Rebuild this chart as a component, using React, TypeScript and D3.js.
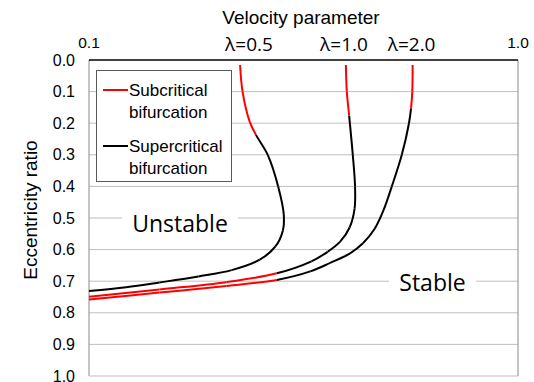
import React from "react";
import * as d3 from "d3";

type P = [number, number]; // [velocity parameter, eccentricity ratio]

const xTickValues = [0.1, 1.0];
const xTickLabels = ["0.1", "1.0"];
const yTickValues = [0, 0.1, 0.2, 0.3, 0.4, 0.5, 0.6, 0.7, 0.8, 0.9, 1.0];

const curveLabels = ["λ=0.5", "λ=1.0", "λ=2.0"];
const curveLabelVelocity = [0.236, 0.393, 0.565];

// λ = 0.5
const l05SubTop: P[] = [[0.225, 0.016], [0.228, 0.1], [0.237, 0.196], [0.245, 0.237]];
const l05Super: P[] = [
  [0.245, 0.237], [0.261, 0.3], [0.276, 0.4], [0.2845, 0.49], [0.283, 0.54], [0.272, 0.59],
  [0.25, 0.632], [0.215, 0.665], [0.18, 0.685], [0.146, 0.704], [0.122, 0.719], [0.1, 0.731],
];
// λ = 1.0
const l10SubTop: P[] = [[0.397, 0.016], [0.399, 0.1], [0.404, 0.176]];
const l10Super: P[] = [
  [0.404, 0.176], [0.412, 0.3], [0.417, 0.4], [0.416, 0.47], [0.405, 0.53], [0.385, 0.575],
  [0.36, 0.607], [0.33, 0.637], [0.274, 0.675],
];
const l10SubBottom: P[] = [[0.274, 0.675], [0.209, 0.703], [0.146, 0.726], [0.1, 0.749]];
// λ = 2.0
const l20SubTop: P[] = [[0.568, 0.016], [0.567, 0.1], [0.563, 0.155]];
const l20Super: P[] = [
  [0.563, 0.155], [0.557, 0.2], [0.536, 0.3], [0.508, 0.4], [0.486, 0.475], [0.463, 0.535],
  [0.435, 0.58], [0.406, 0.612], [0.365, 0.642], [0.328, 0.669], [0.274, 0.696],
];
const l20SubBottom: P[] = [[0.274, 0.696], [0.209, 0.715], [0.146, 0.736], [0.1, 0.758]];

const curves: { seg: P[]; sub: boolean }[][] = [
  [{ seg: l05SubTop, sub: true }, { seg: l05Super, sub: false }],
  [{ seg: l10SubTop, sub: true }, { seg: l10Super, sub: false }, { seg: l10SubBottom, sub: true }],
  [{ seg: l20SubTop, sub: true }, { seg: l20Super, sub: false }, { seg: l20SubBottom, sub: true }],
];

const legendLabels = [["Subcritical", "bifurcation"], ["Supercritical", "bifurcation"]];
const legendColors = ["#ff0000", "#000000"];

const W = 534, H = 382;
const left = 89, right = 518, top = 60, bottom = 376;
const AX = "'Liberation Sans', Arial, sans-serif";
const CAL = "'Open Sans', sans-serif";

export default function App() {
  const x = d3.scaleLog().domain([0.1, 1]).range([left, right]);
  const y = d3.scaleLinear().domain([0, 1]).range([top, bottom]);

  // Build one smooth spline per λ, then colour each interval by its segment.
  const pieces: { d: string; sub: boolean }[] = [];
  curves.forEach((parts) => {
    const pts: P[] = [];
    const flags: boolean[] = [];
    parts.forEach((p, pi) => {
      p.seg.forEach((pt, k) => {
        if (pi > 0 && k === 0) return;
        if (pts.length > 0) flags.push(p.sub);
        pts.push(pt);
      });
    });
    const segs: string[] = [];
    let cx = 0, cy = 0;
    const ctx: any = {
      moveTo(a: number, b: number) { cx = a; cy = b; },
      lineTo(a: number, b: number) { segs.push(`M${cx},${cy}L${a},${b}`); cx = a; cy = b; },
      bezierCurveTo(a: number, b: number, c: number, d: number, e: number, f: number) {
        segs.push(`M${cx},${cy}C${a},${b},${c},${d},${e},${f}`); cx = e; cy = f;
      },
      closePath() {},
    };
    d3.line<P>()
      .x((d) => x(d[0]))
      .y((d) => y(d[1]))
      .curve(d3.curveCatmullRom.alpha(0.5))
      .context(ctx)(pts);
    segs.forEach((s, i) => pieces.push({ d: s, sub: flags[i] }));
  });

  return (
    <svg width={W} height={H} style={{ position: "absolute", left: 0, top: 0, background: "#fff" }}>
      <rect x={0} y={0} width={W} height={H} fill="#fff" />
      {yTickValues.slice(1, -1).map((t) => (
        <line key={t} x1={left} x2={right} y1={y(t)} y2={y(t)} stroke="#bfbfbf" strokeWidth={1} />
      ))}
      <line x1={left} x2={left} y1={top} y2={bottom} stroke="#898989" strokeWidth={1} />
      <line x1={right} x2={right} y1={top} y2={bottom} stroke="#898989" strokeWidth={1} />
      <line x1={left} x2={right} y1={bottom} y2={bottom} stroke="#bfbfbf" strokeWidth={1} />
      <line x1={left} x2={right} y1={top} y2={top} stroke="#000" strokeWidth={1.5} />

      <rect x={122} y={210} width={116} height={28} fill="#fff" />
      <text x={180} y={223} fontFamily={CAL} fontSize={23} textAnchor="middle" dominantBaseline="central" fill="#000">
        Unstable
      </text>
      <rect x={389} y={268} width={87} height={28} fill="#fff" />
      <text x={432.5} y={281.5} fontFamily={CAL} fontSize={23} textAnchor="middle" dominantBaseline="central" fill="#000">
        Stable
      </text>

      {pieces.filter((p) => !p.sub).map((p, i) => (
        <path key={"sp" + i} d={p.d} fill="none" stroke="#000" strokeWidth={2} />
      ))}
      {pieces.filter((p) => p.sub).map((p, i) => (
        <path key={"sb" + i} d={p.d} fill="none" stroke="#ff0000" strokeWidth={2} />
      ))}

      {yTickValues.map((t) => (
        <text key={t} x={75} y={y(t)} fontFamily={AX} fontSize={16} textAnchor="end" dominantBaseline="central" fill="#000">
          {t.toFixed(1)}
        </text>
      ))}
      <text transform={`translate(30,210) rotate(-90)`} fontFamily={AX} fontSize={19} textAnchor="middle" dominantBaseline="central">
        Eccentricity ratio
      </text>

      {xTickValues.map((t, i) => (
        <text key={t} x={x(t)} y={42} fontFamily={AX} fontSize={15.5} textAnchor="middle" dominantBaseline="central">
          {xTickLabels[i]}
        </text>
      ))}
      <text x={301} y={17} fontFamily={AX} fontSize={19} textAnchor="middle" dominantBaseline="central">
        Velocity parameter
      </text>
      {curveLabels.map((lab, i) => (
        <text key={lab} x={x(curveLabelVelocity[i])} y={44} fontFamily={CAL} fontSize={19} textAnchor="middle" dominantBaseline="central">
          {lab}
        </text>
      ))}

      <rect x={96.5} y={70.5} width={135} height={111} fill="#fff" stroke="#595959" strokeWidth={1} />
      {legendLabels.map((labs, i) => (
        <g key={i}>
          <line x1={103} x2={128} y1={90 + i * 56} y2={90 + i * 56} stroke={legendColors[i]} strokeWidth={2} />
          <text x={129} y={90 + i * 56} fontFamily={AX} fontSize={17} dominantBaseline="central">
            {labs[0]}
          </text>
          <text x={129} y={112.5 + i * 56} fontFamily={AX} fontSize={17} dominantBaseline="central">
            {labs[1]}
          </text>
        </g>
      ))}
    </svg>
  );
}
